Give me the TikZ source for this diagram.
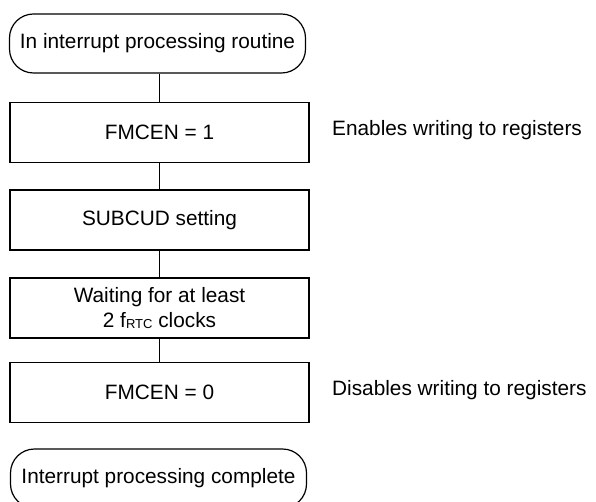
\documentclass[tikz,border=0pt]{standalone}
\usepackage{fontspec}
\setmainfont{Liberation Sans}
\begin{document}
\begin{tikzpicture}[x=1pt,y=-1pt,
        every node/.style={font=\fontsize{20.8}{25}\selectfont},
        proc/.style={draw,line width=1.2pt,minimum width=299pt,minimum height=60pt,inner sep=0pt,align=center},
        term/.style={draw,line width=1.2pt,rounded corners=24pt,minimum width=296pt,minimum height=59pt,inner sep=0pt},
        note/.style={anchor=west,inner sep=0pt}]
        \useasboundingbox (0,0) rectangle (596,502);
        \node[term] (start) at (157.5,43.5) {In interrupt processing routine};
        \node[proc] (en) at (159.5,132.5) {FMCEN = 1};
        \node[proc] (sub) at (159.5,220) {SUBCUD setting};
        \node[proc] (wait) at (159.5,308) {Waiting for at least\\2 f{\fontsize{13}{13}\selectfont\raisebox{-1.5pt}{RTC}} clocks};
        \node[proc] (dis) at (159.5,392.5) {FMCEN = 0};
        \node[term] (stop) at (158.5,478.5) {Interrupt processing complete};
        \foreach \a/\b in {start/en,en/sub,sub/wait,wait/dis}
            \draw[line width=1.2pt] (\b.north |- \a.south)--(\b.north);
        \node[note] (enlbl) at (332,130) {Enables writing to registers};
        \node[note] (dislbl) at (332,390) {Disables writing to registers};
    \end{tikzpicture}
\end{document}
